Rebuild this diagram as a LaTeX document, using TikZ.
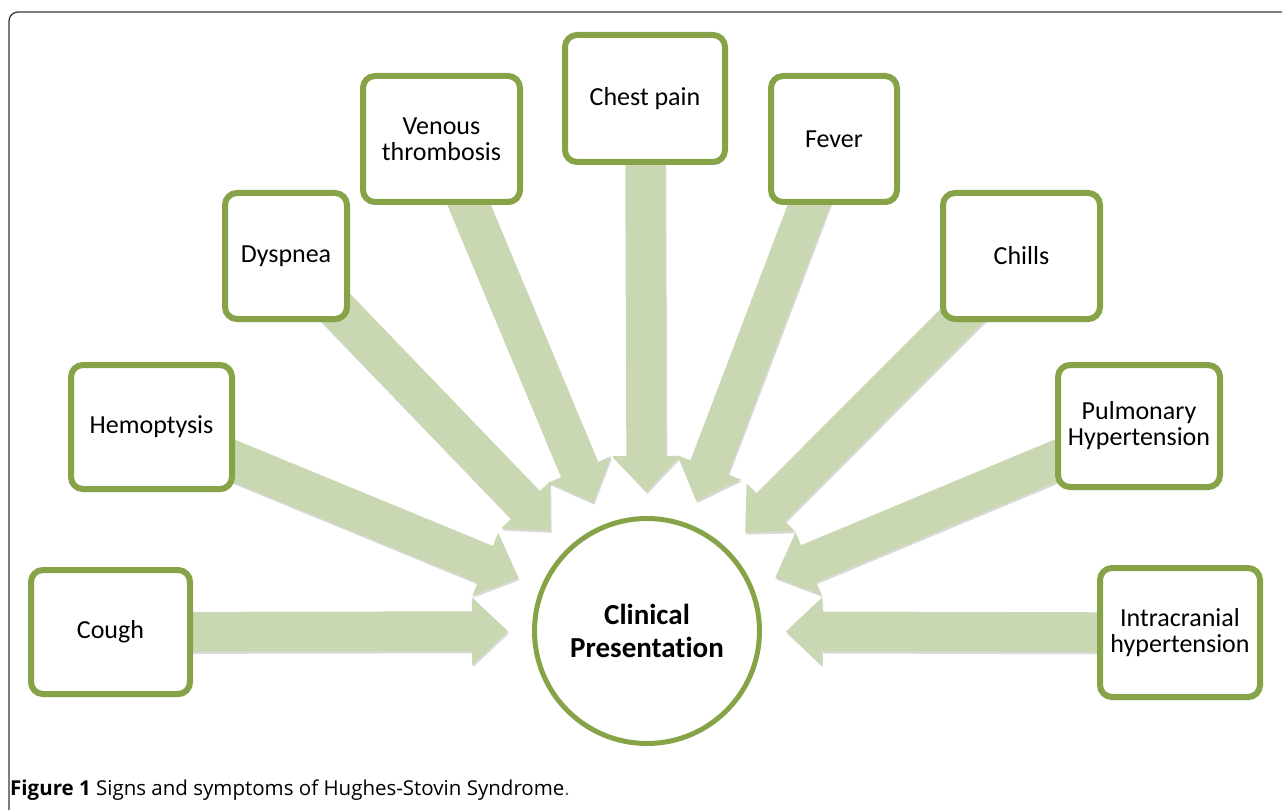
\documentclass[tikz,border=0pt]{standalone}
\usepackage{fontspec}
\setmainfont{Carlito}[Ligatures={NoCommon}]
\newfontfamily\capfont{Open Sans}
\usetikzlibrary{calc,shadows}
\definecolor{boxgreen}{RGB}{134,163,72}
\definecolor{arrowgreen}{RGB}{201,216,178}
\definecolor{framegray}{RGB}{55,55,55}
\pgfdeclarelayer{bg}
\pgfsetlayers{bg,main}
\tikzset{
  symbox/.style={draw=boxgreen, line width=6pt, rounded corners=12pt, fill=white,
    inner sep=0pt, align=center, font=\fontsize{26}{26}\selectfont,
    drop shadow={shadow xshift=1pt, shadow yshift=-3pt, opacity=0.18, fill=black}},
  hub/.style={circle, draw=boxgreen, line width=5pt, fill=white, minimum size=225pt,
    inner sep=0pt, align=center, font=\fontsize{29}{33}\selectfont\bfseries},
  arrowfill/.style={fill=arrowgreen,
    drop shadow={shadow xshift=1pt, shadow yshift=-2pt, opacity=0.15, fill=black}},
}
\newcommand{\convarrow}[1]{%
  \coordinate (#1-T) at ($(cp.center)!139pt!(#1.center)$);
  \coordinate (#1-H) at ($(#1-T)!36pt!(#1.center)$);
  \fill[arrowfill] ($(#1.center)!20pt!90:(#1-T)$) -- ($(#1-H)!20pt!90:(#1-T)$)
    -- ($(#1-H)!34pt!90:(#1-T)$) -- (#1-T) -- ($(#1-H)!34pt!-90:(#1-T)$)
    -- ($(#1-H)!20pt!-90:(#1-T)$) -- ($(#1.center)!20pt!-90:(#1-T)$) -- cycle;
}
\begin{document}
\begin{tikzpicture}[x=1pt,y=1pt]
\useasboundingbox (0,0) rectangle (1282,-810);
\draw[framegray, line width=1.3pt, rounded corners=9pt] (9,-815) -- (9,-12) -- (1290,-12);

\node[hub] (cp) at (647,-631) {Clinical\\Presentation};

\node[symbox, minimum width=159pt, minimum height=124pt] (cough) at (110.5,-632) {Cough};
\node[symbox, minimum width=161pt, minimum height=124pt] (hemo) at (151.5,-427) {Hemoptysis};
\node[symbox, minimum width=122pt, minimum height=126pt] (dysp) at (286,-256) {Dyspnea};
\node[symbox, minimum width=157pt, minimum height=126pt] (venous) at (441.5,-139) {Venous\\thrombosis};
\node[symbox, minimum width=160pt, minimum height=127pt] (chest) at (645,-98.5) {Chest pain};
\node[symbox, minimum width=126pt, minimum height=126pt] (fever) at (834,-139) {Fever};
\node[symbox, minimum width=157pt, minimum height=126pt] (chills) at (1021.5,-256) {Chills};
\node[symbox, minimum width=162pt, minimum height=122pt] (pulm) at (1139,-426) {Pulmonary\\Hypertension};
\node[symbox, minimum width=160pt, minimum height=129pt] (intra) at (1180,-632.5) {Intracranial\\hypertension};

\begin{pgfonlayer}{bg}
\convarrow{cough}
\convarrow{hemo}
\convarrow{dysp}
\convarrow{venous}
\convarrow{chest}
\convarrow{fever}
\convarrow{chills}
\convarrow{pulm}
\convarrow{intra}
\end{pgfonlayer}

\node[anchor=base west, inner sep=0pt, font=\capfont\fontsize{20.5}{22}\selectfont] (cap) at (10,-795)
  {\textbf{Figure 1} Signs and symptoms of Hughes-Stovin Syndrome{\color{black!60}.}};
\end{tikzpicture}
\end{document}
